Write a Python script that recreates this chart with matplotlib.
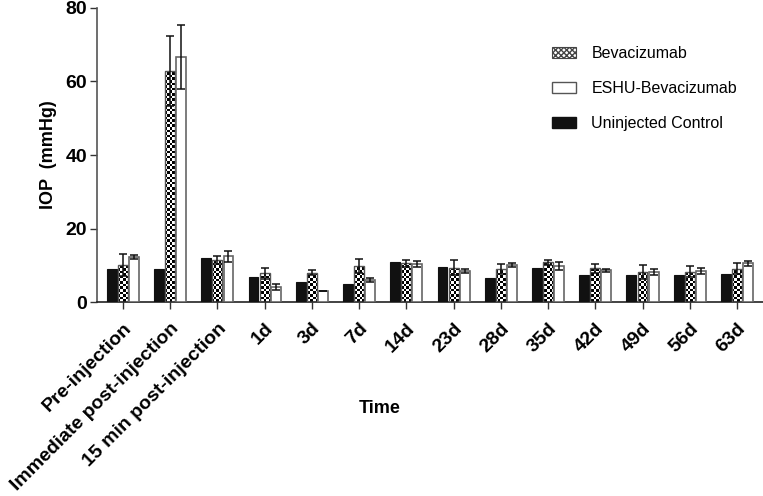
"""IOP over time for bevacizumab vs ESHU-bevacizumab injections."""

import matplotlib
matplotlib.use("Agg")
import matplotlib.pyplot as plt
import numpy as np
from matplotlib.patches import Patch

TIMEPOINTS = ["Pre-injection", "Immediate post-injection", "15 min post-injection",
              "1d", "3d", "7d", "14d", "23d", "28d", "35d", "42d", "49d", "56d", "63d"]

CONTROL = [9.0, 9.0, 12.0, 6.9, 5.5, 4.9, 11.0, 9.6, 6.6, 9.3, 7.3, 7.3, 7.3, 7.6]

BEVA = [10.0, 62.9, 11.4, 7.8, 8.0, 9.8, 10.5, 9.4, 9.0, 10.8, 9.2, 8.2, 8.2, 9.0]
BEVA_ERR = [3.0, 9.5, 1.1, 1.4, 0.6, 1.8, 1.0, 2.0, 1.3, 0.6, 1.2, 1.8, 1.5, 1.5]

ESHU = [12.2, 66.7, 12.4, 4.0, 2.9, 6.0, 10.4, 8.4, 10.0, 9.8, 8.6, 8.2, 8.4, 10.6]
ESHU_ERR = [0.6, 8.7, 1.6, 0.8, 0.0, 0.5, 0.8, 0.6, 0.5, 1.1, 0.35, 0.9, 0.8, 0.7]

FONT = "Liberation Sans"


def checker_fill(ax, bars, cell_px=2.6):
    # black/white checkerboard clipped to each bar
    bbox = ax.get_window_extent()
    nx = int(bbox.width / cell_px)
    ny = int(bbox.height / cell_px)
    grid = (np.add.outer(np.arange(ny), np.arange(nx)) % 2).astype(float)
    x0, x1 = ax.get_xlim()
    y0, y1 = ax.get_ylim()
    for bar in bars:
        im = ax.imshow(grid, cmap="gray", vmin=0, vmax=1, extent=(x0, x1, y0, y1),
                       aspect="auto", interpolation="nearest", zorder=2)
        im.set_clip_path(bar)


def main():
    plt.rcParams["font.family"] = [FONT, "DejaVu Sans"]
    fig = plt.figure(figsize=(7.63, 4.96), dpi=100)
    ax = fig.add_axes([0.127, 0.391, 0.873, 0.593])

    x = np.arange(len(TIMEPOINTS))
    w = 0.21
    off = 0.235

    ax.bar(x - off, CONTROL, w, color="#111111", edgecolor="#111111", linewidth=0.8, zorder=3)
    beva_bars = ax.bar(x, BEVA, w, color="white", edgecolor="#555555", linewidth=1.0, zorder=3)
    for b in beva_bars:
        b.set_facecolor("none")
    ax.bar(x + off, ESHU, w, color="white", edgecolor="#666666", linewidth=1.2, zorder=3)

    ax.errorbar(x, BEVA, yerr=BEVA_ERR, fmt="none", ecolor="#111111", elinewidth=1.1,
                capsize=3, capthick=1.1, zorder=4)
    ax.errorbar(x + off, ESHU, yerr=ESHU_ERR, fmt="none", ecolor="#111111", elinewidth=1.1,
                capsize=3, capthick=1.1, zorder=4)

    ax.set_xlim(-0.55, 13.55)
    ax.set_ylim(0, 80)
    ax.set_yticks([0, 20, 40, 60, 80])
    checker_fill(ax, beva_bars)

    ax.set_xticks(x)
    ax.set_xticklabels(TIMEPOINTS, rotation=45, ha="right", rotation_mode="anchor",
                       fontsize=14, fontweight="bold")
    for lab in ax.get_yticklabels():
        lab.set_fontsize(14)
        lab.set_fontweight("bold")
    ax.tick_params(axis="both", direction="out", length=5, width=1, color="#333333")
    ax.tick_params(axis="x", pad=8)
    ax.tick_params(axis="y", pad=2)

    for side in ("top", "right"):
        ax.spines[side].set_visible(False)
    ax.spines["left"].set_color("#555555")
    ax.spines["bottom"].set_color("#222222")
    ax.spines["left"].set_linewidth(1.2)
    ax.spines["bottom"].set_linewidth(1.2)

    ax.set_ylabel("IOP  (mmHg)", fontsize=13, fontweight="bold", labelpad=6)
    fig.text(0.497, 0.176, "Time", fontsize=13, fontweight="bold", ha="center", va="center")

    handles = [
        Patch(facecolor="white", edgecolor="#444444", hatch="xxxxxx", linewidth=0.8),
        Patch(facecolor="white", edgecolor="#555555", linewidth=1.0),
        Patch(facecolor="#111111", edgecolor="#111111"),
    ]
    ax.legend(handles, ["Bevacizumab", "ESHU-Bevacizumab", "Uninjected Control"],
              loc="upper left", bbox_to_anchor=(0.662, 0.92), frameon=False, fontsize=11.5,
              handlelength=1.5, handleheight=0.7, labelspacing=1.25, handletextpad=0.95)

    fig.savefig("out.png", dpi=100)


if __name__ == "__main__":
    main()
